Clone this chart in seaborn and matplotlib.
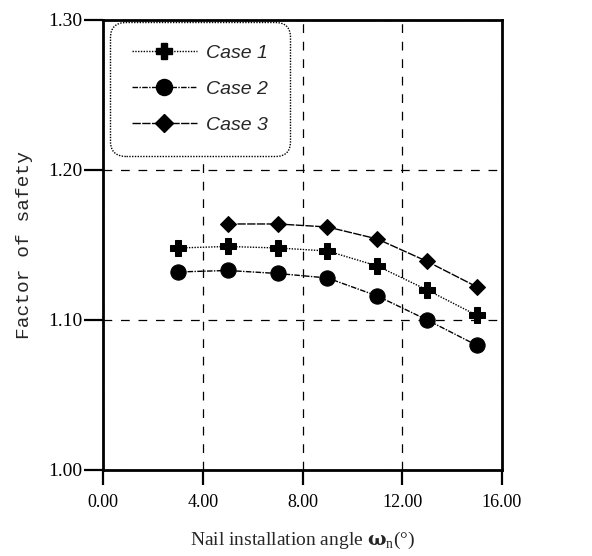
import matplotlib
matplotlib.use("Agg")
import matplotlib.pyplot as plt
from matplotlib.ticker import MultipleLocator, FormatStrFormatter
from matplotlib.lines import Line2D
import seaborn as sns
import pandas as pd

# Nail installation angle (degrees) and factor of safety for each case
angle_case1 = [3, 5, 7, 9, 11, 13, 15]
fs_case1 = [1.148, 1.149, 1.148, 1.146, 1.136, 1.120, 1.103]

angle_case2 = [3, 5, 7, 9, 11, 13, 15]
fs_case2 = [1.132, 1.133, 1.131, 1.128, 1.116, 1.100, 1.083]

angle_case3 = [5, 7, 9, 11, 13, 15]
fs_case3 = [1.164, 1.164, 1.162, 1.154, 1.139, 1.122]

case_names = ["Case 1", "Case 2", "Case 3"]
x_ticks = [0, 4, 8, 12, 16]
y_ticks = [1.00, 1.10, 1.20, 1.30]

df = pd.concat([
    pd.DataFrame({"angle": angle_case1, "fs": fs_case1, "case": case_names[0]}),
    pd.DataFrame({"angle": angle_case2, "fs": fs_case2, "case": case_names[1]}),
    pd.DataFrame({"angle": angle_case3, "fs": fs_case3, "case": case_names[2]}),
])

sns.set_style("white")
plt.rcParams["font.family"] = ["Liberation Serif", "DejaVu Serif"]
plt.rcParams["mathtext.fontset"] = "custom"
plt.rcParams["mathtext.rm"] = "Liberation Serif"
plt.rcParams["mathtext.bf"] = "DejaVu Serif:bold"

fig = plt.figure(figsize=(5.92, 5.56), dpi=100)
ax = fig.add_axes([0.174, 0.1547, 0.674, 0.8094])

styles = {
    "Case 1": dict(marker="P", ms=11, ls=(0, (1, 1)), lw=1.0),
    "Case 2": dict(marker="o", ms=11, ls=(0, (4, 1, 1, 1)), lw=1.0),
    "Case 3": dict(marker="D", ms=8.5, ls=(0, (6, 1)), lw=1.0),
}

for name in case_names:
    sub = df[df["case"] == name]
    st = styles[name]
    sns.lineplot(data=sub, x="angle", y="fs", ax=ax, color="black",
                 marker=st["marker"], markersize=st["ms"],
                 linestyle=st["ls"], linewidth=st["lw"],
                 markeredgecolor="black", markerfacecolor="black",
                 legend=False, zorder=3)

ax.set_xlim(0, 16)
ax.set_ylim(1.0, 1.3)
ax.set_xticks(x_ticks)
ax.set_yticks(y_ticks)
ax.xaxis.set_minor_locator(MultipleLocator(2))
ax.yaxis.set_minor_locator(MultipleLocator(0.05))
ax.xaxis.set_major_formatter(FormatStrFormatter("%.2f"))
ax.yaxis.set_major_formatter(FormatStrFormatter("%.2f"))

ax.grid(True, which="major", color="black", linestyle=(0, (7, 7)), linewidth=0.9)

for sp in ax.spines.values():
    sp.set_visible(True)
    sp.set_color("black")
    sp.set_linewidth(2.0)

ax.tick_params(axis="x", which="major", direction="out", length=11, width=1.6,
               labelsize=13, colors="black", pad=6)
ax.tick_params(axis="y", which="major", direction="out", length=14, width=1.6,
               labelsize=14, colors="black", pad=1)
ax.tick_params(axis="both", which="minor", direction="out", length=5.5, width=1.6,
               colors="black")
ax.tick_params(left=True, bottom=True)

ax.set_xlabel(r"Nail installation angle $\mathbf{\omega}_{\mathrm{n}}$(°)",
              fontsize=14, labelpad=14)
ax.set_ylabel("Factor of safety", fontsize=14, labelpad=11,
              family=["Liberation Mono", "DejaVu Sans Mono"])

handles = [
    Line2D([], [], color="black", marker=styles[n]["marker"], markersize=styles[n]["ms"] * 1.05,
           linestyle=styles[n]["ls"], linewidth=styles[n]["lw"])
    for n in case_names
]
leg = ax.legend(handles, case_names, loc="upper left", bbox_to_anchor=(0.0175, 0.996),
                borderaxespad=0, frameon=True, fancybox=True, handlelength=3.3,
                labelspacing=0.95, borderpad=1.15, handletextpad=0.5,
                prop={"family": "Liberation Sans", "style": "italic", "size": 14})
frame = leg.get_frame()
frame.set_edgecolor("black")
frame.set_linestyle((0, (1, 1)))
frame.set_linewidth(1.0)
frame.set_facecolor("white")
frame.set_alpha(1.0)
frame.set_boxstyle("round,pad=0,rounding_size=0.8")

fig.savefig("out.png", dpi=100, facecolor="white")
